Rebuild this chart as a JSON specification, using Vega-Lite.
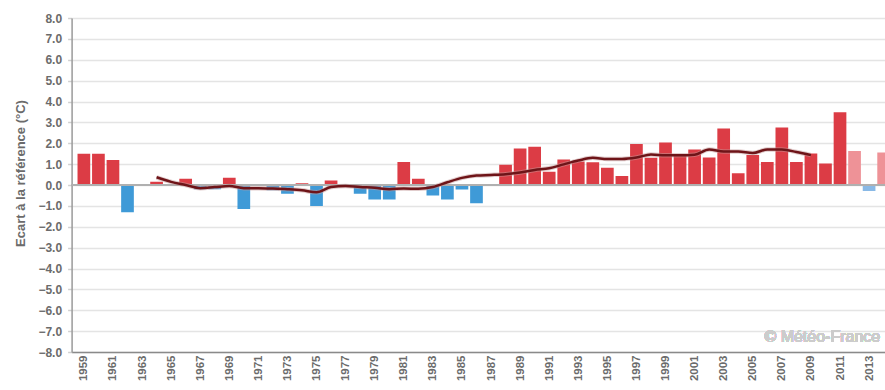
{
  "$schema": "https://vega.github.io/schema/vega-lite/v6.json",
  "autosize": "none",
  "width": 813.4,
  "height": 334,
  "padding": {"left": 71.6, "top": 18, "right": 0, "bottom": 38},
  "background": "white",
  "config": {
    "view": {"stroke": null},
    "font": "Liberation Sans"
  },
  "data": {
    "values": [
      {"annee": 1959, "ecart": 1.5, "moyenne": null},
      {"annee": 1960, "ecart": 1.5, "moyenne": null},
      {"annee": 1961, "ecart": 1.2, "moyenne": null},
      {"annee": 1962, "ecart": -1.3, "moyenne": null},
      {"annee": 1963, "ecart": 0.0, "moyenne": null},
      {"annee": 1964, "ecart": 0.15, "moyenne": 0.37},
      {"annee": 1965, "ecart": 0.0, "moyenne": 0.15},
      {"annee": 1966, "ecart": 0.3, "moyenne": 0.0},
      {"annee": 1967, "ecart": -0.2, "moyenne": -0.15},
      {"annee": 1968, "ecart": -0.2, "moyenne": -0.1},
      {"annee": 1969, "ecart": 0.35, "moyenne": -0.05},
      {"annee": 1970, "ecart": -1.15, "moyenne": -0.15},
      {"annee": 1971, "ecart": -0.05, "moyenne": -0.15},
      {"annee": 1972, "ecart": -0.25, "moyenne": -0.17},
      {"annee": 1973, "ecart": -0.42, "moyenne": -0.2},
      {"annee": 1974, "ecart": 0.08, "moyenne": -0.25},
      {"annee": 1975, "ecart": -1.0, "moyenne": -0.35},
      {"annee": 1976, "ecart": 0.22, "moyenne": -0.1},
      {"annee": 1977, "ecart": -0.05, "moyenne": -0.05},
      {"annee": 1978, "ecart": -0.42, "moyenne": -0.1},
      {"annee": 1979, "ecart": -0.7, "moyenne": -0.13},
      {"annee": 1980, "ecart": -0.7, "moyenne": -0.2},
      {"annee": 1981, "ecart": 1.1, "moyenne": -0.17},
      {"annee": 1982, "ecart": 0.3, "moyenne": -0.18},
      {"annee": 1983, "ecart": -0.5, "moyenne": -0.1},
      {"annee": 1984, "ecart": -0.7, "moyenne": 0.13},
      {"annee": 1985, "ecart": -0.22, "moyenne": 0.34},
      {"annee": 1986, "ecart": -0.88, "moyenne": 0.45},
      {"annee": 1987, "ecart": 0.0, "moyenne": 0.48},
      {"annee": 1988, "ecart": 0.97, "moyenne": 0.52},
      {"annee": 1989, "ecart": 1.75, "moyenne": 0.6},
      {"annee": 1990, "ecart": 1.83, "moyenne": 0.72},
      {"annee": 1991, "ecart": 0.64, "moyenne": 0.8},
      {"annee": 1992, "ecart": 1.22, "moyenne": 0.99},
      {"annee": 1993, "ecart": 1.12, "moyenne": 1.17},
      {"annee": 1994, "ecart": 1.09, "moyenne": 1.3},
      {"annee": 1995, "ecart": 0.83, "moyenne": 1.25},
      {"annee": 1996, "ecart": 0.43, "moyenne": 1.25},
      {"annee": 1997, "ecart": 1.97, "moyenne": 1.32},
      {"annee": 1998, "ecart": 1.31, "moyenne": 1.46},
      {"annee": 1999, "ecart": 2.04, "moyenne": 1.42},
      {"annee": 2000, "ecart": 1.43, "moyenne": 1.42},
      {"annee": 2001, "ecart": 1.7, "moyenne": 1.45},
      {"annee": 2002, "ecart": 1.32, "moyenne": 1.7},
      {"annee": 2003, "ecart": 2.71, "moyenne": 1.6},
      {"annee": 2004, "ecart": 0.56, "moyenne": 1.6},
      {"annee": 2005, "ecart": 1.44, "moyenne": 1.53},
      {"annee": 2006, "ecart": 1.1, "moyenne": 1.7},
      {"annee": 2007, "ecart": 2.76, "moyenne": 1.7},
      {"annee": 2008, "ecart": 1.1, "moyenne": 1.58},
      {"annee": 2009, "ecart": 1.51, "moyenne": 1.43},
      {"annee": 2010, "ecart": 1.03, "moyenne": null},
      {"annee": 2011, "ecart": 3.49, "moyenne": null},
      {"annee": 2012, "ecart": 1.63, "moyenne": null},
      {"annee": 2013, "ecart": -0.29, "moyenne": null},
      {"annee": 2014, "ecart": 1.56, "moyenne": null}
    ]
  },
  "layer": [
    {
      "mark": {"type": "bar", "width": 12.7, "clip": true},
      "encoding": {
        "x": {
          "field": "annee",
          "type": "quantitative",
          "scale": {"domain": [1958.5, 2013.75], "nice": false, "zero": false},
          "axis": {
            "title": null,
            "values": [1959, 1961, 1963, 1965, 1967, 1969, 1971, 1973, 1975, 1977, 1979, 1981, 1983, 1985, 1987, 1989, 1991, 1993, 1995, 1997, 1999, 2001, 2003, 2005, 2007, 2009, 2011, 2013],
            "tickCount": 100,
            "format": "d",
            "labelAngle": 270,
            "labelFont": "Liberation Sans",
            "labelFontWeight": "bold",
            "labelFontSize": 11.5,
            "labelColor": "#6b6b6b",
            "labelPadding": 3,
            "labelFlush": false,
            "labelOverlap": false,
            "ticks": false,
            "grid": false,
            "domainColor": "#8a8a8a",
            "domainWidth": 1.5
          }
        },
        "y": {
          "field": "ecart",
          "type": "quantitative",
          "scale": {"domain": [-8, 8], "nice": false},
          "axis": {
            "title": "Ecart à la référence (°C)",
            "titleFont": "Liberation Sans",
            "titleFontSize": 13,
            "titleFontWeight": "bold",
            "titleColor": "#6b6b6b",
            "titlePadding": 10,
            "titleY": 155,
            "values": [-8, -7, -6, -5, -4, -3, -2, -1, 0, 1, 2, 3, 4, 5, 6, 7, 8],
            "tickCount": 100,
            "format": ".1f",
            "labelFont": "Liberation Sans",
            "labelFontWeight": "bold",
            "labelFontSize": 12,
            "labelColor": "#6b6b6b",
            "labelPadding": 6,
            "labelOverlap": false,
            "labelFlush": false,
            "tickSize": 4,
            "tickColor": "#d0d0d0",
            "tickWidth": 1.5,
            "gridColor": "#e4e4e4",
            "gridWidth": 1.5,
            "domainColor": "#9a9a9a",
            "domainWidth": 1.5
          }
        },
        "y2": {"datum": 0},
        "color": {
          "condition": [
            {"test": "datum.annee >= 2012 && datum.ecart >= 0", "value": "#ee9297"},
            {"test": "datum.annee >= 2012", "value": "#89b9e6"},
            {"test": "datum.ecart >= 0", "value": "#dc3c45"}
          ],
          "value": "#3f9ad7"
        }
      }
    },
    {
      "mark": {"type": "rule", "color": "#b0b0b0", "strokeWidth": 2},
      "encoding": {"y": {"datum": 0}}
    },
    {
      "transform": [{"filter": "datum.moyenne != null"}],
      "mark": {"type": "line", "interpolate": "monotone", "color": "#c49a9a", "strokeWidth": 4.5, "opacity": 0.5},
      "encoding": {
        "x": {"field": "annee", "type": "quantitative"},
        "y": {"field": "moyenne", "type": "quantitative"}
      }
    },
    {
      "transform": [{"filter": "datum.moyenne != null"}],
      "mark": {"type": "line", "interpolate": "monotone", "color": "#6e1418", "strokeWidth": 2.5},
      "encoding": {
        "x": {"field": "annee", "type": "quantitative"},
        "y": {"field": "moyenne", "type": "quantitative"}
      }
    },
    {
      "mark": {"type": "text", "text": "© Météo-France", "align": "left", "baseline": "middle", "fontSize": 16, "color": "#cccccc", "font": "Liberation Sans"},
      "encoding": {
        "x": {"datum": 2005.8},
        "y": {"datum": -7.3}
      }
    }
  ]
}
